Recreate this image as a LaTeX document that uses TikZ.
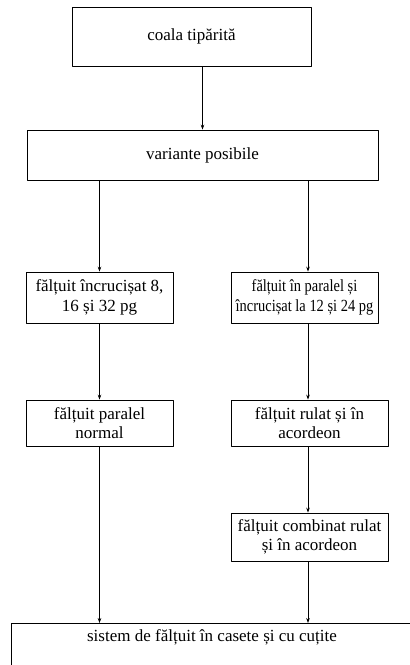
\documentclass[tikz,border=0pt]{standalone}
\usepackage{fontspec}
\usepackage{graphicx}
\setmainfont{Liberation Serif}
\usetikzlibrary{arrows.meta}

\newcommand{\tightline}[1]{\scalebox{0.85}[1]{#1}}

\begin{document}
\begin{tikzpicture}[x=1pt,y=-1pt,>={Stealth[length=5pt,width=3.6pt]},line join=round,
  boxnode/.style={draw,line width=0.8pt,inner sep=1pt,align=center,
    font=\fontsize{17}{19.5}\selectfont},
  flow/.style={->,line width=0.7pt}]
  \useasboundingbox (0,0) rectangle (410,665);
  \clip (0,0) rectangle (410,665);
  \coordinate (colL) at (99.5,0);
  \coordinate (colR) at (308,0);
  % boxes
  \node[boxnode,minimum width=239pt,minimum height=59pt] (coala) at (191.5,36.5) {coala tipărită};
  \node[boxnode,minimum width=351pt,minimum height=50pt] (variante) at (202.5,155) {variante posibile};
  \node[boxnode,minimum width=147pt,minimum height=51pt] (incrucisat) at (99.5,297.5) {fălțuit încrucișat 8,\\16 și 32 pg};
  \node[boxnode,minimum width=147pt,minimum height=51pt] (paralel) at (304.5,297.5) {\tightline{fălțuit în paralel și}\\\tightline{încrucișat la 12 și 24 pg}};
  \node[boxnode,minimum width=147pt,minimum height=46pt] (normal) at (99.5,423) {fălțuit paralel\\normal};
  \node[boxnode,minimum width=157pt,minimum height=46pt] (rulat) at (309.5,423) {fălțuit rulat și în\\acordeon};
  \node[boxnode,minimum width=157pt,minimum height=48pt] (combinat) at (309.5,537) {fălțuit combinat rulat\\și în acordeon};
  \node[boxnode,anchor=north,minimum width=402pt,text height=11pt,text depth=40pt,inner sep=7pt] (sistem) at (212,623) {sistem de fălțuit în casete și cu cuțite};
  % connectors
  \draw[flow] (coala.south -| variante.north) -- (variante.north);
  \draw[flow] (variante.south -| colL) -- (incrucisat.north -| colL);
  \draw[flow] (variante.south -| colR) -- (paralel.north -| colR);
  \draw[flow] (incrucisat.south -| colL) -- (normal.north -| colL);
  \draw[flow] (paralel.south -| colR) -- (rulat.north -| colR);
  \draw[flow] (rulat.south -| colR) -- (combinat.north -| colR);
  \draw[flow] (normal.south -| colL) -- (sistem.north -| colL);
  \draw[flow] (combinat.south -| colR) -- (sistem.north -| colR);
\end{tikzpicture}
\end{document}
